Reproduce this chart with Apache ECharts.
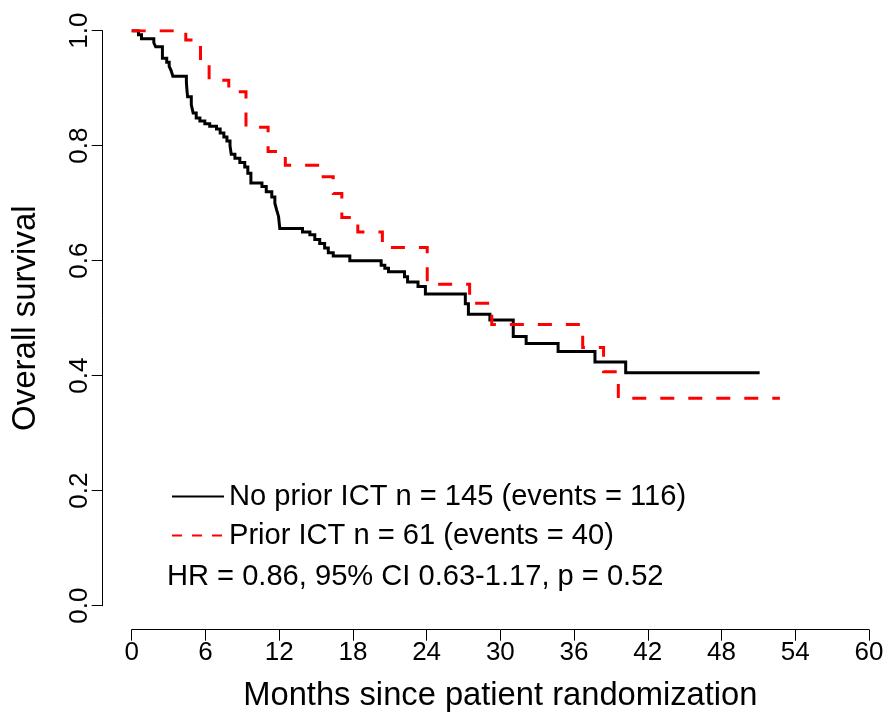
<!DOCTYPE html>
<html><head><meta charset="utf-8">
<script src="https://cdn.jsdelivr.net/npm/echarts@6/dist/echarts.min.js"></script>
<style>html,body{margin:0;padding:0;background:#fff}#c{width:891px;height:728px}</style>
</head><body><div id="c"></div>
<script>
// Kaplan-Meier steps: [month, survival after step]
const noPriorICT = [
 [0,1.0],[0.55,0.993],[0.8,0.986],[1.8,0.979],[1.95,0.972],[2.5,0.952],[2.85,0.945],[3.05,0.938],[3.2,0.931],[3.35,0.921],
 [4.45,0.910],[4.5,0.896],[4.55,0.885],[4.85,0.871],[5.0,0.857],[5.25,0.848],[5.55,0.843],[5.95,0.838],[6.35,0.834],
 [6.9,0.829],[7.2,0.822],[7.5,0.815],[7.75,0.808],[8.0,0.800],[8.1,0.785],[8.4,0.778],[8.8,0.771],[9.2,0.763],[9.45,0.752],
 [9.7,0.735],[10.6,0.729],[10.95,0.720],[11.4,0.711],[11.65,0.700],[11.8,0.688],[11.95,0.677],[12.05,0.656],
 [13.9,0.650],[14.5,0.645],[14.9,0.637],[15.3,0.630],[15.7,0.622],[16.0,0.614],[16.4,0.608],[17.75,0.600],
 [20.3,0.592],[20.6,0.587],[20.9,0.581],[22.2,0.572],[22.45,0.563],[23.3,0.555],[23.9,0.542],
 [27.15,0.525],[27.4,0.507],[29.15,0.497],[31.05,0.468],[32.1,0.456],[34.7,0.442],[37.7,0.424],[40.2,0.405],[51.1,0.405]
];
const priorICT = [
 [0,1.0],[4.4,0.984],[5.6,0.948],[6.3,0.914],[7.9,0.894],[9.3,0.832],[11.1,0.790],[12.5,0.766],[15.3,0.746],
 [16.4,0.717],[17.1,0.675],[18.4,0.650],[20.4,0.623],[24.05,0.559],[27.5,0.526],[29.3,0.489],[36.7,0.449],
 [38.4,0.407],[39.6,0.361],[52.75,0.361]
];
const seriesNames = ['No prior ICT n = 145 (events = 116)', 'Prior ICT n = 61 (events = 40)'];
const statsText = 'HR = 0.86, 95% CI 0.63-1.17, p = 0.52';
const xTicks = [0, 60, 6];
const yTicks = [0, 1, 0.2];

const FONT = 'Liberation Sans, Arial, Helvetica, sans-serif';
const chart = echarts.init(document.getElementById('c'), null, {renderer: 'canvas'});
chart.setOption({
  animation: false,
  backgroundColor: '#fff',
  grid: {left: 131.7, right: 22, top: 30.7, bottom: 122.3, containLabel: false},
  xAxis: {
    type: 'value', min: xTicks[0], max: xTicks[1], interval: xTicks[2], offset: 24,
    name: 'Months since patient randomization', nameLocation: 'middle', nameGap: 50,
    nameTextStyle: {fontFamily: FONT, fontSize: 32.7, color: '#000'},
    axisLine: {show: true, onZero: false, lineStyle: {color: '#000', width: 1}},
    axisTick: {show: true, length: 11, lineStyle: {color: '#000', width: 1}},
    axisLabel: {fontFamily: FONT, fontSize: 26, color: '#000', margin: 10},
    splitLine: {show: false}
  },
  yAxis: {
    type: 'value', min: yTicks[0], max: yTicks[1], interval: yTicks[2], offset: 29,
    name: 'Overall survival', nameLocation: 'middle', nameGap: 60,
    nameTextStyle: {fontFamily: FONT, fontSize: 33, color: '#000'},
    axisLine: {show: true, onZero: false, lineStyle: {color: '#000', width: 1}},
    axisTick: {show: true, length: 11, lineStyle: {color: '#000', width: 1}},
    axisLabel: {fontFamily: FONT, fontSize: 26, color: '#000', rotate: 90, margin: 10,
      formatter: v => v.toFixed(1)},
    splitLine: {show: false}
  },
  legend: {
    orient: 'vertical', left: 166, top: 477, itemGap: 10, itemWidth: 52, itemHeight: 26,
    textStyle: {fontFamily: FONT, fontSize: 29.1, color: '#000'},
    itemStyle: {opacity: 0},
    data: [
      {name: seriesNames[0]},
      {name: seriesNames[1], lineStyle: {type: [10, 10]}}
    ]
  },
  graphic: [{
    type: 'text', left: 167, top: 562,
    style: {text: statsText, font: '29.1px ' + FONT, fill: '#000'}
  }],
  series: [
    {name: seriesNames[0], type: 'line', step: 'end', data: noPriorICT, showSymbol: false, symbol: 'none',
     lineStyle: {color: '#000', width: 3, cap: 'butt', join: 'miter'}, itemStyle: {color: '#000'}, z: 3},
    {name: seriesNames[1], type: 'line', step: 'end', data: priorICT, showSymbol: false, symbol: 'none',
     lineStyle: {color: '#ff0000', width: 3, type: [14, 14], cap: 'butt', join: 'miter'}, itemStyle: {color: '#ff0000'}, z: 4}
  ]
});
</script></body></html>
